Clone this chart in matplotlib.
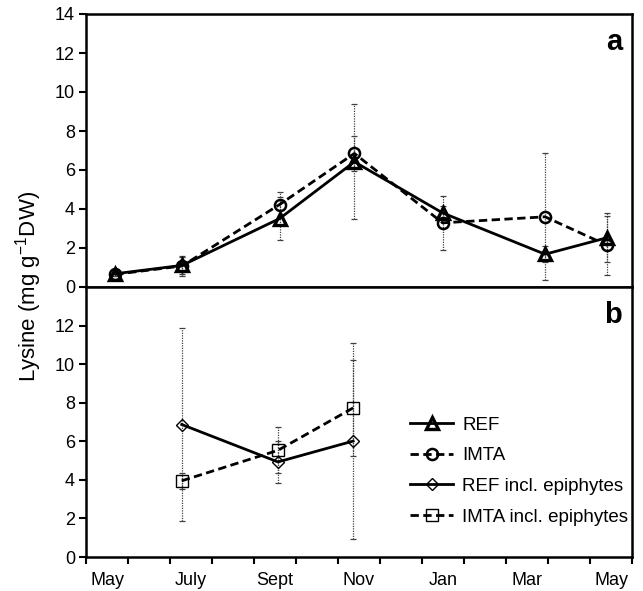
import matplotlib
matplotlib.use('Agg')
import matplotlib.pyplot as plt

# Sampling positions on the month axis (0 = start of May, one unit per tick)
x_top = [0.70, 2.29, 4.61, 6.39, 8.49, 10.93, 12.41]
x_epi = [2.28, 4.57, 6.36]

# Panel a: lysine content
ref = [0.68, 1.11, 3.51, 6.42, 3.80, 1.68, 2.53]
ref_err = [0.10, 0.45, 1.10, 2.95, 0.35, 0.40, 1.25]
imta = [0.65, 1.08, 4.23, 6.85, 3.29, 3.60, 2.14]
imta_err = [0.10, 0.50, 0.65, 0.90, 1.37, 3.25, 1.50]

# Panel b: including epiphytes
ref_epi = [6.87, 4.93, 6.01]
ref_epi_err = [5.00, 1.10, 5.10]
imta_epi = [3.95, 5.53, 7.73]
imta_epi_err = [0.40, 1.20, 2.50]

month_labels = ['May', 'July', 'Sept', 'Nov', 'Jan', 'Mar', 'May']
month_label_pos = [0.5, 2.5, 4.5, 6.5, 8.5, 10.5, 12.5]


def plot_series(ax, x, y, yerr, ls, marker, ms, mew, label):
    '''
    Plot one series with dotted error bars and open markers.
    '''
    eb = ax.errorbar(x, y, yerr=yerr, fmt='none', ecolor='0.25',
                     elinewidth=0.9, capsize=2.5, capthick=0.9, zorder=2)
    eb[2][0].set_linestyle((0, (1, 1)))

    line, = ax.plot(x, y, color='black', lw=2, ls=ls, marker=marker,
                    ms=ms, mew=mew, mfc='none', mec='black',
                    label=label, zorder=3)
    if ls == '--':
        line.set_dashes((3, 1.6))
    return line


def style_axis(ax, yticks):
    # Thick box around each panel
    for sp in ax.spines.values():
        sp.set_linewidth(1.8)
    ax.set_xlim(0, 13)
    ax.set_ylim(0, 14)
    ax.set_yticks(yticks)
    ax.tick_params(axis='y', direction='out', length=5, width=1.5,
                   labelsize=13, pad=3)


def main():
    plt.rcParams['font.family'] = ['Liberation Sans', 'DejaVu Sans']

    fig = plt.figure(figsize=(6.43, 5.91), dpi=100)
    left, right = 86 / 643, 632 / 643
    ax_a = fig.add_axes([left, 1 - 287 / 591, right - left, (287 - 14) / 591])
    ax_b = fig.add_axes([left, 1 - 557 / 591, right - left, (557 - 287) / 591])

    # Panel a
    h_ref = plot_series(ax_a, x_top, ref, ref_err, '-', '^', 8, 2.4, 'REF')
    h_imta = plot_series(ax_a, x_top, imta, imta_err, '--', 'o', 8, 1.8, 'IMTA')
    style_axis(ax_a, range(0, 15, 2))
    ax_a.set_xticks([])
    ax_a.text(0.982, 0.868, 'a', transform=ax_a.transAxes, ha='right',
              va='baseline', fontsize=21, fontweight='bold')

    # Panel b
    h_ref_epi = plot_series(ax_b, x_epi, ref_epi, ref_epi_err, '-', 'D', 6.5,
                            1.0, 'REF incl. epiphytes')
    h_imta_epi = plot_series(ax_b, x_epi, imta_epi, imta_epi_err, '--', 's',
                             9, 1.0, 'IMTA incl. epiphytes')
    style_axis(ax_b, range(0, 13, 2))
    ax_b.set_xticks(range(0, 14))
    ax_b.set_xticklabels([])
    ax_b.tick_params(axis='x', direction='out', length=5, width=1.5)
    ax_b.set_xticks(month_label_pos, minor=True)
    ax_b.set_xticklabels(month_labels, minor=True)
    ax_b.tick_params(axis='x', which='minor', length=0, labelsize=13, pad=11)
    ax_b.text(0.982, 0.868, 'b', transform=ax_b.transAxes, ha='right',
              va='baseline', fontsize=21, fontweight='bold')

    ax_b.legend(handles=[h_ref, h_imta, h_ref_epi, h_imta_epi],
                frameon=False, fontsize=13.5, loc='upper left',
                bbox_to_anchor=(0.58, 0.548), handlelength=2.3,
                handletextpad=0.48, labelspacing=0.72, borderaxespad=0)

    fig.text(0.044, 0.515, 'Lysine (mg g$^{\\mathregular{-1}}$DW)',
             rotation=90, ha='center', va='center', fontsize=16)

    plt.savefig('out.png', dpi=100)


if __name__ == '__main__':
    main()
